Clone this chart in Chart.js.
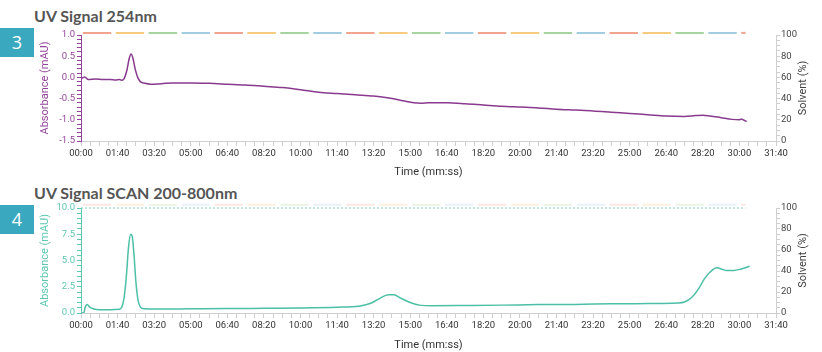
<!DOCTYPE html>
<html>
<head>
<meta charset="utf-8">
<script src="https://cdn.jsdelivr.net/npm/chart.js@4.4.1/dist/chart.umd.min.js"></script>
<style>
  html, body { margin: 0; padding: 0; background: #fff; width: 822px; height: 352px; overflow: hidden; font-family: "Lato", sans-serif; }
  .title { position: absolute; left: 34px; font-weight: bold; font-size: 16px; color: #555; }
  .badge { position: absolute; left: 0; width: 34px; height: 29px; background: #3aa8be; color: #fff; font-family: "Open Sans", sans-serif; font-size: 18px; line-height: 29px; text-align: center; }
  .box { position: absolute; left: 34px; width: 788px; height: 154px; }
</style>
</head>
<body>
<div class="title" style="top:6px">UV Signal 254nm</div>
<div class="badge" style="top:28px">3</div>
<div class="box" style="top:25px"><canvas id="chart254"></canvas></div>

<div class="title" style="top:183px">UV Signal SCAN 200-800nm</div>
<div class="badge" style="top:205px">4</div>
<div class="box" style="top:198px"><canvas id="chartScan"></canvas></div>

<script>
// time in seconds
const t254 = [0, 5, 10, 20, 40, 60, 80, 95, 105, 112, 118, 125, 132, 137, 142, 148, 155, 162, 175, 190, 220, 250, 300, 350, 400, 450, 500, 550, 600, 650, 700, 750, 800, 850, 880, 910, 930, 950, 1000, 1050, 1100, 1150, 1200, 1250, 1300, 1350, 1400, 1450, 1500, 1550, 1600, 1650, 1680, 1700, 1720, 1750, 1780, 1800, 1805, 1812, 1820];
const a254 = [-0.02, -0.01, 0.01, -0.05, -0.04, -0.05, -0.05, -0.06, -0.05, -0.07, -0.03, 0.15, 0.45, 0.55, 0.45, 0.2, 0.0, -0.1, -0.14, -0.16, -0.15, -0.13, -0.13, -0.14, -0.16, -0.18, -0.21, -0.24, -0.29, -0.35, -0.38, -0.41, -0.44, -0.5, -0.55, -0.6, -0.61, -0.6, -0.6, -0.62, -0.65, -0.68, -0.7, -0.72, -0.75, -0.77, -0.79, -0.82, -0.85, -0.88, -0.91, -0.92, -0.9, -0.89, -0.91, -0.95, -0.99, -1.0, -0.98, -1.01, -1.04];

const tScan = [0, 8, 11, 17, 24, 35, 50, 80, 105, 112, 118, 124, 130, 136, 140, 145, 150, 156, 163, 172, 200, 300, 400, 500, 600, 700, 760, 790, 815, 840, 855, 875, 900, 925, 960, 1050, 1150, 1250, 1350, 1450, 1550, 1630, 1650, 1670, 1690, 1705, 1720, 1738, 1750, 1765, 1785, 1805, 1828];
const aScan = [0, 0.02, 0.5, 0.8, 0.55, 0.38, 0.32, 0.32, 0.35, 0.6, 1.5, 3.5, 6.3, 7.5, 7.3, 5.5, 3.0, 1.2, 0.55, 0.4, 0.38, 0.4, 0.42, 0.45, 0.48, 0.55, 0.65, 0.9, 1.35, 1.75, 1.75, 1.4, 1.0, 0.75, 0.7, 0.72, 0.75, 0.8, 0.82, 0.87, 0.9, 0.95, 1.05, 1.5, 2.4, 3.3, 3.9, 4.3, 4.2, 4.05, 4.05, 4.2, 4.45];

// solvent gradient band (time in s, % solvent)
const solventT = [5, 95, 185, 275, 365, 455, 545, 635, 725, 815, 905, 995, 1085, 1175, 1265, 1355, 1445, 1535, 1625, 1715, 1805, 1817];
const solventTop = 102;
const solventScanTop = 103;
const solventLevel = 100;

const bandColors = ['#f0a48e', '#f5cc7f', '#a6d49f', '#a2cce2'];
const bandFaint = ['rgba(240,164,142,0.25)', 'rgba(245,204,127,0.25)', 'rgba(166,212,159,0.25)', 'rgba(162,204,226,0.25)'];

function mmss(v) {
  const m = Math.floor(v / 60), s = Math.round(v % 60);
  return String(m).padStart(2, '0') + ':' + String(s).padStart(2, '0');
}

function pts(xs, ys) { return xs.map((x, i) => ({ x: x, y: Array.isArray(ys) ? ys[i] : ys })); }

// right axis title reads bottom-to-top like the left one
const rightTitle = {
  id: 'rightTitle',
  afterDraw(chart) {
    const ctx = chart.ctx, a = chart.chartArea;
    ctx.save();
    ctx.translate(chart.width - 19, (a.top + a.bottom) / 2);
    ctx.rotate(-Math.PI / 2);
    ctx.font = '11px Roboto';
    ctx.fillStyle = '#444';
    ctx.textAlign = 'center';
    ctx.textBaseline = 'middle';
    ctx.fillText('Solvent (%)', 0, 0);
    ctx.restore();
  }
};

function makeChart(id, cfg) {
  const tickFont = { family: 'Roboto', size: 9.5 };
  return new Chart(document.getElementById(id), {
    type: 'line',
    data: {
      datasets: [
        {
          data: pts(cfg.t, cfg.a), yAxisID: 'y', borderColor: cfg.color, borderWidth: 1.5,
          pointRadius: 0, cubicInterpolationMode: 'monotone', order: 1
        },
        {
          data: pts(solventT, cfg.bandTop), yAxisID: 'y2', borderWidth: 2, pointRadius: 0,
          borderDash: [28.4, 4.5], clip: false, order: 2,
          segment: { borderColor: c => cfg.band[c.p0DataIndex % 4] }
        }
      ].concat(cfg.extra || [])
    },
    plugins: [rightTitle],
    options: {
      responsive: true, maintainAspectRatio: false, animation: false,
      layout: { padding: { top: cfg.padTop, left: 0, right: 0, bottom: 0 } },
      plugins: { legend: { display: false }, tooltip: { enabled: false } },
      scales: {
        x: {
          type: 'linear', min: 0, max: 1900,
          afterFit: s => { s.height = cfg.xHeight; },
          ticks: {
            stepSize: 25, autoSkip: false, maxRotation: 0, color: '#333', font: tickFont, padding: 2,
            callback: v => (v % 100 === 0 ? mmss(v) : '')
          },
          grid: { drawOnChartArea: false, color: '#cfcfcf', tickLength: 5 },
          border: { color: '#cfcfcf' },
          title: { display: true, text: 'Time (mm:ss)', color: '#333', font: { family: 'Roboto', size: 11 }, padding: { top: 1, bottom: 0 } }
        },
        y: {
          position: 'left', min: cfg.yMin, max: cfg.yMax,
          afterFit: s => { s.width = 47; },
          ticks: {
            stepSize: cfg.minor, autoSkip: false, color: cfg.label, font: { family: 'Roboto', size: 9.5 }, padding: 2,
            callback: v => (Math.abs(Math.round(v / cfg.minor)) % cfg.every === 0 ? v.toFixed(1) : '')
          },
          grid: { drawOnChartArea: false, color: cfg.label, tickLength: 4 },
          border: { color: cfg.label },
          title: { display: true, text: 'Absorbance (mAU)', color: cfg.label, font: { family: 'Roboto', size: 11 }, padding: { top: 5, bottom: 0 } }
        },
        y2: {
          position: 'right', min: 0, max: 100,
          afterFit: s => { s.width = 46; },
          ticks: {
            stepSize: 5, autoSkip: false, color: '#444', font: tickFont, padding: 1,
            callback: v => (v % 20 === 0 ? v : '')
          },
          grid: { drawOnChartArea: false, color: '#cfcfcf', tickLength: 4 },
          border: { color: '#cfcfcf' }
        }
      }
    }
  });
}

makeChart('chart254', {
  t: t254, a: a254, color: '#8a3a8e', label: '#93449a',
  yMin: -1.5, yMax: 1.0, minor: 0.1, every: 5,
  band: bandColors, bandTop: solventTop, padTop: 10, xHeight: 38
});

makeChart('chartScan', {
  t: tScan, a: aScan, color: '#4cbfa6', label: '#5ec7b1',
  yMin: 0, yMax: 10, minor: 0.5, every: 5,
  band: bandFaint, bandTop: solventScanTop, padTop: 10, xHeight: 39,
  extra: [{
    data: pts([0, 1817], solventLevel), yAxisID: 'y2', borderColor: '#7fd3c2', borderWidth: 1,
    borderDash: [2, 2], pointRadius: 0, clip: false, order: 3
  }]
});
</script>
</body>
</html>
